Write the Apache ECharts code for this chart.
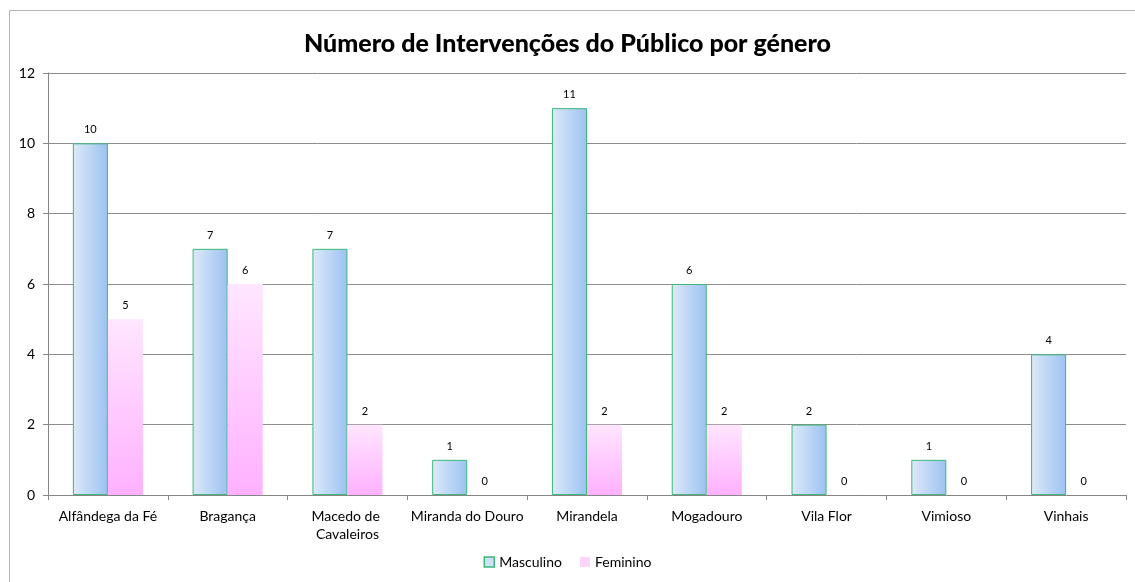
<!DOCTYPE html>
<html><head><meta charset="utf-8">
<script src="https://cdn.jsdelivr.net/npm/echarts@6/dist/echarts.min.js"></script>
<style>html,body{margin:0;padding:0;background:#fff}#c{width:1135px;height:582px}</style>
</head><body><div id="c"></div>
<script>
const categories = ['Alfândega da Fé','Bragança','Macedo de Cavaleiros','Miranda do Douro','Mirandela','Mogadouro','Vila Flor','Vimioso','Vinhais'];
const masculino = [10,7,7,1,11,6,2,1,4];
const feminino = [5,6,2,0,2,2,0,0,0];
const yTicks = {min:0, max:12, interval:2};
const FONT = 'Lato';

const chart = echarts.init(document.getElementById('c'), null, {renderer:'canvas'});
const mGrad = new echarts.graphic.LinearGradient(0,0,1,0,[{offset:0,color:'#dde9f9'},{offset:1,color:'#9cc2f1'}]);
const fGrad = new echarts.graphic.LinearGradient(0,0,0,1,[{offset:0,color:'#ffe6ff'},{offset:1,color:'#ffb1ff'}]);
chart.setOption({
  backgroundColor:'#fff',
  animation:false,
  textStyle:{fontFamily:FONT},
  graphic:[{type:'rect',shape:{x:9.5,y:10.5,width:1140,height:590},style:{fill:'none',stroke:'#b3b3b3',lineWidth:1},silent:true}],
  title:{text:'Número de Intervenções do Público por género',left:'center',top:26,
    textStyle:{fontFamily:FONT,fontWeight:900,fontSize:25,color:'#000'}},
  legend:{bottom:8,left:'center',icon:'rect',itemWidth:10,itemHeight:10,itemGap:18,
    textStyle:{fontFamily:FONT,fontSize:14,color:'#000'},
    data:[{name:'Masculino',itemStyle:{color:'#cfe0f7',borderColor:'#3cb878',borderWidth:1.5}},
          {name:'Feminino',itemStyle:{color:'#fdd4fd',borderWidth:0}}]},
  grid:{left:48,right:9,top:73,bottom:87,containLabel:false},
  xAxis:{type:'category',data:categories,
    axisLine:{lineStyle:{color:'#868686'}},
    axisTick:{show:true,length:5,lineStyle:{color:'#868686'}},
    axisLabel:{fontFamily:FONT,fontSize:14,color:'#000',margin:12,width:114,overflow:'break',interval:0,lineHeight:18}},
  yAxis:{type:'value',min:yTicks.min,max:yTicks.max,interval:yTicks.interval,
    axisLine:{show:true,lineStyle:{color:'#868686'}},
    axisTick:{show:true,length:5,lineStyle:{color:'#868686'}},
    splitLine:{lineStyle:{color:'#8c8c8c'}},
    axisLabel:{fontFamily:FONT,fontSize:14,color:'#000',margin:13}},
  series:[
    {name:'Masculino',type:'bar',data:masculino,barGap:'0%',barCategoryGap:'41.5%',
     itemStyle:{color:mGrad,borderColor:'#3cb878',borderWidth:1},
     label:{show:true,position:'top',distance:8,fontFamily:FONT,fontSize:11,color:'#000'}},
    {name:'Feminino',type:'bar',data:feminino,
     itemStyle:{color:fGrad},
     label:{show:true,position:'top',distance:8,fontFamily:FONT,fontSize:11,color:'#000'}}
  ]
});
</script></body></html>
